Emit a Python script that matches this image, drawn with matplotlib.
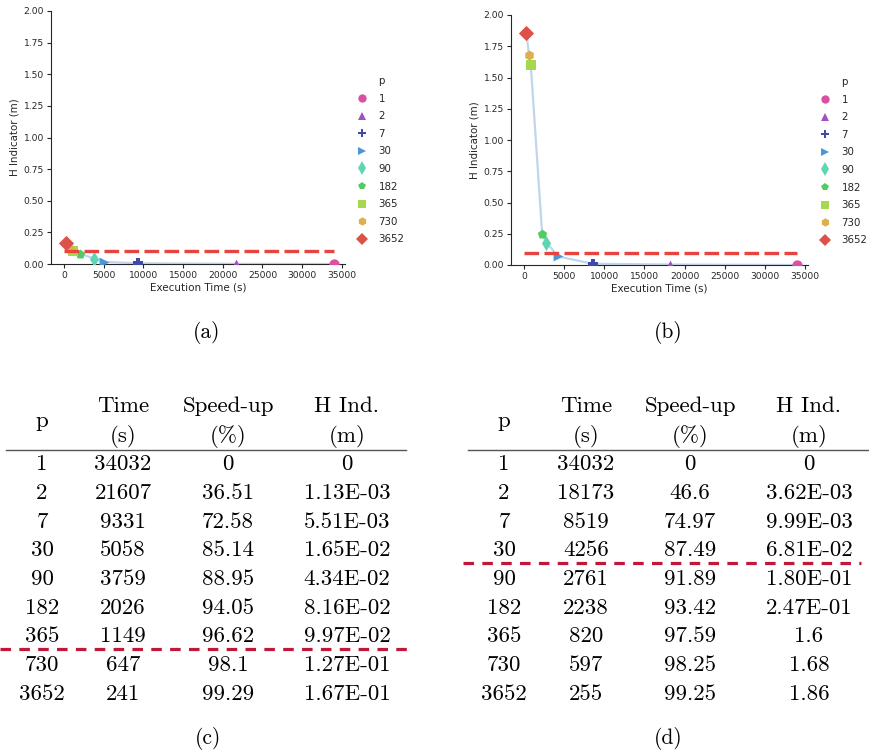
import matplotlib
matplotlib.use('Agg')
import matplotlib.pyplot as plt
from matplotlib.lines import Line2D

# valores de p (días de la ventana)
p_vals = ['1', '2', '7', '30', '90', '182', '365', '730', '3652']

# caso (a)
time_a = [34032, 21607, 9331, 5058, 3759, 2026, 1149, 647, 241]
speed_a = ['0', '36.51', '72.58', '85.14', '88.95', '94.05', '96.62', '98.1', '99.29']
hind_a = ['0', '1.13E-03', '5.51E-03', '1.65E-02', '4.34E-02', '8.16E-02', '9.97E-02', '1.27E-01', '1.67E-01']

# caso (b)
time_b = [34032, 18173, 8519, 4256, 2761, 2238, 820, 597, 255]
speed_b = ['0', '46.6', '74.97', '87.49', '91.89', '93.42', '97.59', '98.25', '99.25']
hind_b = ['0', '3.62E-03', '9.99E-03', '6.81E-02', '1.80E-01', '2.47E-01', '1.6', '1.68', '1.86']

threshold = 0.1
header_top = ['Time', 'Speed-up', 'H Ind.']
header_bot = ['(s)', '(%)', '(m)']

colors = ['#dc4fa2', '#a24fc6', '#3f49a8', '#4b97d6', '#5ed6b4',
          '#50cc62', '#a5d84e', '#ddb04c', '#dc5249']
markers = ['o', '^', 'P', '>', 'd', 'p', 's', 'h', 'D']
msizes = [55, 50, 55, 50, 60, 50, 50, 50, 60]

W, H = 869, 752
fig = plt.figure(figsize=(W / 100, H / 100), dpi=100)


def px_axes(l, t, r, b):
    return fig.add_axes([l / W, 1 - b / H, (r - l) / W, (b - t) / H])


def scatter_panel(ax, times, hind, legend_xy):
    y = [float(v) for v in hind]
    order = sorted(range(len(times)), key=lambda i: times[i])
    ax.plot([times[i] for i in order], [y[i] for i in order],
            color='#bfd6eb', lw=1.6, zorder=1)
    for i in range(len(times)):
        ax.scatter(times[i], y[i], s=msizes[i], c=colors[i], marker=markers[i],
                   linewidths=0, zorder=3)
    ax.hlines(threshold, 0, max(times), colors='#e8443f', lw=2.4,
              linestyles=(0, (4.4, 1.6)), zorder=4)
    ax.set_xlim(-1650, 35400)
    ax.set_ylim(0, 2)
    ax.set_xticks(range(0, 35001, 5000))
    ax.set_yticks([0, 0.25, 0.5, 0.75, 1.0, 1.25, 1.5, 1.75, 2.0])
    ax.set_yticklabels(['%.2f' % v for v in ax.get_yticks()])
    ax.set_xlabel('Execution Time (s)', fontsize=7.5, color='#262626', labelpad=1.5)
    ax.set_ylabel('H Indicator (m)', fontsize=7.4, color='#262626', labelpad=3)
    ax.tick_params(labelsize=6.6, length=3, width=0.8, colors='#262626', pad=2)
    for s in ['top', 'right']:
        ax.spines[s].set_visible(False)
    for s in ['left', 'bottom']:
        ax.spines[s].set_color('#262626')
        ax.spines[s].set_linewidth(0.8)
    handles = [Line2D([], [], ls='none')]
    for i in range(len(p_vals)):
        handles.append(Line2D([], [], ls='none', marker=markers[i], color=colors[i],
                              markersize=6 if markers[i] != 'd' else 7, markeredgewidth=0))
    fig.legend(handles, ['p'] + p_vals, loc='upper left',
               bbox_to_anchor=(legend_xy[0] / W, 1 - legend_xy[1] / H),
               frameon=False, fontsize=7.4, handlelength=1.0, handletextpad=1.1,
               labelspacing=0.74, borderaxespad=0, borderpad=0,
               labelcolor='#262626')


ax_a = px_axes(51, 11, 345, 264)
scatter_panel(ax_a, time_a, hind_a, (357, 76))
ax_b = px_axes(511, 15, 808, 265)
scatter_panel(ax_b, time_b, hind_b, (820, 77))

# capa superior en pixeles para las tablas y los rótulos
ov = fig.add_axes([0, 0, 1, 1])
ov.set_xlim(0, W)
ov.set_ylim(H, 0)
ov.axis('off')

cm = dict(fontfamily='cmr10', fontsize=16.5, color='black', ha='center', va='baseline')


def table_panel(x0, col_x, times, speed, hind, cut_after, rule, dash):
    row0, dy, base = 463, 28.65, 7.5
    ov.text(x0 + col_x[0], 423 + 4, 'p', **cm)
    for j in range(3):
        ov.text(x0 + col_x[j + 1], 405 + base, header_top[j], **cm)
        ov.text(x0 + col_x[j + 1], 433 + base + 2, header_bot[j], **cm)
    ov.plot([x0 + rule[0], x0 + rule[1]], [450, 450], color='#555555', lw=1.0)
    for i in range(len(p_vals)):
        yy = row0 + i * dy + base
        ov.text(x0 + col_x[0], yy, p_vals[i], **cm)
        ov.text(x0 + col_x[1], yy, str(times[i]), **cm)
        ov.text(x0 + col_x[2], yy, speed[i], **cm)
        ov.text(x0 + col_x[3], yy, hind[i], **cm)
    yd = row0 + (cut_after + 0.5) * dy - 0.5
    ov.plot([x0 + dash[0], x0 + dash[1]], [yd, yd], color='#c0173a', lw=2.3,
            linestyle=(0, (3.3, 2.6)))


table_panel(0, [42, 123, 228, 347], time_a, speed_a, hind_a, 6, (6, 406), (0, 412))
table_panel(440, [64, 146, 250, 369], time_b, speed_b, hind_b, 3, (28, 428), (23, 421))

cap = dict(fontfamily='cmr10', fontsize=15.5, ha='center', va='center')
ov.text(207, 333, '(a)', **cap)
ov.text(668, 333, '(b)', **cap)
ov.text(208, 738, '(c)', **cap)
ov.text(668, 738, '(d)', **cap)

fig.savefig('out.png', dpi=100)
